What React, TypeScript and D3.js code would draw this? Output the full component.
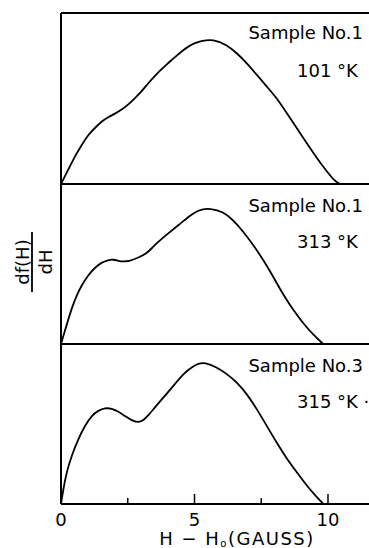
import * as d3 from "d3";
import { useEffect, useRef } from "react";

// H - H0 (gauss) and df(H)/dH (arbitrary units, peak of sample 1 at 101K = 100)
const xTicksMajor = [0, 5, 10];
const xTicksMinor = [2.5, 7.5];

const s1LowX = [0, 0.27, 0.52, 0.78, 1.02, 1.27, 1.52, 1.77, 2.02, 2.27, 2.52, 2.77, 3.02, 3.27, 3.52, 3.77, 4.02, 4.27, 4.52, 4.77, 5.02, 5.27, 5.7, 6.21, 6.58, 6.96, 7.33, 7.7, 8.08, 8.45, 8.83, 9.2, 9.58, 9.95, 10.26, 10.45];
const s1LowY = [0, 9.9, 19.2, 27.3, 34.2, 38.9, 43.5, 46.5, 48.8, 51.6, 55.1, 59.7, 64.3, 70.1, 75.2, 79.9, 84, 88.2, 92.1, 95.6, 97.9, 99.5, 100.5, 96.7, 91, 84, 75.9, 67.8, 59.7, 49.3, 38.9, 28.5, 18.1, 8.8, 1.8, 0];

const s1HighX = [0, 0.21, 0.4, 0.59, 0.78, 1.02, 1.27, 1.52, 1.77, 1.96, 2.15, 2.33, 2.58, 2.9, 3.21, 3.4, 3.64, 4.02, 4.39, 4.77, 5.02, 5.27, 5.58, 6.08, 6.45, 6.83, 7.2, 7.58, 7.95, 8.33, 8.7, 9.07, 9.45, 9.82];
const s1HighY = [0, 13.2, 24.8, 34, 41, 47.9, 53, 56.7, 58.3, 58.8, 57.6, 57.2, 57.6, 59.9, 63, 66.5, 71, 76.9, 82.4, 88.3, 91.6, 93.6, 94.2, 91.9, 86.1, 78, 68.8, 58.3, 46.7, 34, 23.6, 14.4, 6.3, 0];

const s3X = [0, 0.09, 0.21, 0.4, 0.65, 0.9, 1.15, 1.4, 1.65, 1.9, 2.15, 2.4, 2.65, 2.9, 3.08, 3.27, 3.52, 3.9, 4.27, 4.64, 4.9, 5.14, 5.39, 5.83, 6.21, 6.58, 6.96, 7.33, 7.7, 8.08, 8.45, 8.83, 9.2, 9.58, 9.83];
const s3Y = [0, 10.6, 22.1, 33.7, 45.3, 54.5, 61.5, 64.9, 66.8, 66.3, 64.2, 61, 58, 56.5, 58, 61.5, 67.2, 75.3, 83.5, 91.5, 95, 97.6, 98.4, 95, 90.4, 84.6, 76.5, 66.1, 54.5, 42.5, 31.6, 22.1, 12.8, 4.7, 0];

const panelSamples = ["Sample No.1", "Sample No.1", "Sample No.3"];
const panelTemps = ["101 °K", "313 °K", "315 °K ·"];

const FONT = "'DejaVu Sans', Verdana, sans-serif";

export default function App() {
  const ref = useRef<SVGSVGElement>(null);

  useEffect(() => {
    if (!ref.current) return;
    const svg = d3.select(ref.current);
    svg.selectAll("*").remove();

    const width = 369;
    const left = 61;
    const top = 13;
    const bottoms = [184, 344, 504];
    const tops = [top, 184, 344];
    const sampleBase = [39, 212, 372];

    const x = d3.scaleLinear().domain([0, 10]).range([left, 328]);

    const series = [
      { xs: s1LowX, ys: s1LowY },
      { xs: s1HighX, ys: s1HighY },
      { xs: s3X, ys: s3Y },
    ];

    const g = svg.append("g");

    series.forEach((s, i) => {
      const y = d3.scaleLinear().domain([0, 100]).range([bottoms[i], bottoms[i] - 144]);
      const pts = s.xs.map((v, k) => [v, s.ys[k]] as [number, number]);
      const line = d3
        .line<[number, number]>()
        .x((d) => x(d[0]))
        .y((d) => y(d[1]))
        .curve(d3.curveBasis);
      g.append("path")
        .attr("d", line(pts))
        .attr("fill", "none")
        .attr("stroke", "#000")
        .attr("stroke-width", 1.8)
        .attr("stroke-linejoin", "round");

      g.append("text")
        .attr("x", 363)
        .attr("y", sampleBase[i])
        .attr("text-anchor", "end")
        .attr("font-size", 18)
        .attr("font-family", FONT)
        .text(panelSamples[i]);

      g.append("text")
        .attr("x", 297)
        .attr("y", tops[i] + 64)
        .attr("font-size", 18)
        .attr("font-family", FONT)
        .text(panelTemps[i]);
    });

    // frame
    g.append("line")
      .attr("x1", left)
      .attr("x2", left)
      .attr("y1", top)
      .attr("y2", bottoms[2])
      .attr("stroke", "#000")
      .attr("stroke-width", 2);
    [top, ...bottoms].forEach((yy) => {
      g.append("line")
        .attr("x1", left)
        .attr("x2", width)
        .attr("y1", yy)
        .attr("y2", yy)
        .attr("stroke", "#000")
        .attr("stroke-width", 2);
    });

    // x ticks (pointing inward)
    xTicksMajor.forEach((t) => {
      g.append("line")
        .attr("x1", x(t))
        .attr("x2", x(t))
        .attr("y1", bottoms[2])
        .attr("y2", bottoms[2] - 10)
        .attr("stroke", "#000")
        .attr("stroke-width", 1.5);
      g.append("text")
        .attr("x", x(t))
        .attr("y", 526)
        .attr("text-anchor", "middle")
        .attr("font-size", 18)
        .attr("font-family", FONT)
        .text(String(t));
    });
    xTicksMinor.forEach((t) => {
      g.append("line")
        .attr("x1", x(t))
        .attr("x2", x(t))
        .attr("y1", bottoms[2])
        .attr("y2", bottoms[2] - 6)
        .attr("stroke", "#000")
        .attr("stroke-width", 1.5);
    });

    // x label
    const xl = g
      .append("text")
      .attr("x", 237)
      .attr("y", 545)
      .attr("text-anchor", "middle")
      .attr("font-size", 18)
      .attr("letter-spacing", 1.5)
      .attr("font-family", FONT);
    xl.append("tspan").text("H − H");
    xl.append("tspan").attr("font-size", 10).attr("dy", 2).text("o");
    xl.append("tspan").attr("dy", -2).text("(GAUSS)");

    // y label: df(H)/dH, rotated
    const cy = 262;
    g.append("line")
      .attr("x1", 32)
      .attr("x2", 32)
      .attr("y1", cy - 30)
      .attr("y2", cy + 30)
      .attr("stroke", "#000")
      .attr("stroke-width", 1.8);
    g.append("text")
      .attr("transform", `translate(29,${cy}) rotate(-90)`)
      .attr("text-anchor", "middle")
      .attr("font-size", 18)
      .attr("font-family", FONT)
      .text("df(H)");
    g.append("text")
      .attr("transform", `translate(52,${cy}) rotate(-90)`)
      .attr("text-anchor", "middle")
      .attr("font-size", 18)
      .attr("font-family", FONT)
      .text("dH");
  }, []);

  return (
    <div style={{ position: "absolute", left: 0, top: 0 }}>
      <svg ref={ref} width={369} height={548} style={{ display: "block", background: "#fff" }} />
    </div>
  );
}
